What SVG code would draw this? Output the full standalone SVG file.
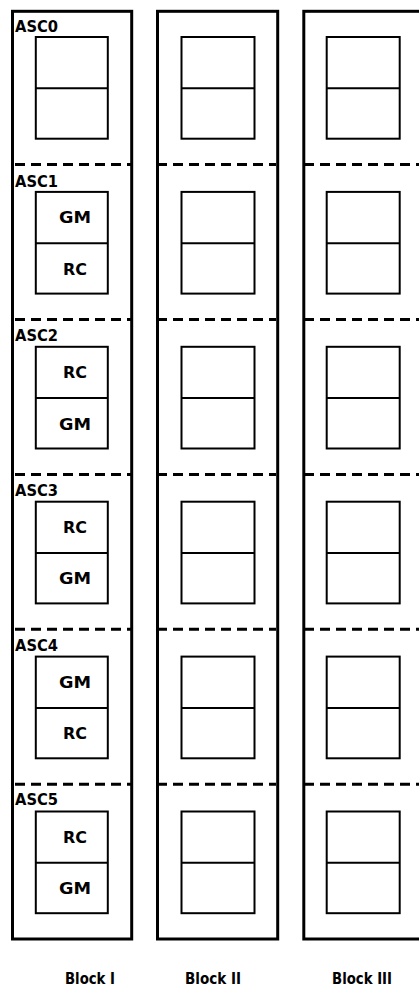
<svg xmlns="http://www.w3.org/2000/svg" width="419" height="989" viewBox="0 0 419 989">
<style>
.outer{fill:none;stroke:#000;stroke-width:3}
.box{fill:none;stroke:#000;stroke-width:2}
.dash{stroke:#000;stroke-width:3;stroke-dasharray:10 6;fill:none}
.lbl{font-family:"DejaVu Sans",sans-serif;font-weight:bold;font-size:16px;fill:#000}
.mid{text-anchor:middle}
</style>
<defs>
<g id="cell"><rect class="box" x="0" y="0" width="72" height="101.7"/><line class="box" x1="0" y1="51.3" x2="72" y2="51.3"/></g>
<g id="cell2"><rect class="box" x="0" y="0" width="73" height="101.7"/><line class="box" x1="0" y1="51.3" x2="73" y2="51.3"/></g>
</defs>
<g id="connectors">
<line class="dash" x1="15" y1="164.5" x2="131" y2="164.5"/>
<line class="dash" x1="15" y1="319.5" x2="131" y2="319.5"/>
<line class="dash" x1="15" y1="474.4" x2="131" y2="474.4"/>
<line class="dash" x1="15" y1="629.3" x2="131" y2="629.3"/>
<line class="dash" x1="15" y1="784.3" x2="131" y2="784.3"/>
<line class="dash" x1="157" y1="164.5" x2="276" y2="164.5"/>
<line class="dash" x1="157" y1="319.5" x2="276" y2="319.5"/>
<line class="dash" x1="157" y1="474.4" x2="276" y2="474.4"/>
<line class="dash" x1="157" y1="629.3" x2="276" y2="629.3"/>
<line class="dash" x1="157" y1="784.3" x2="276" y2="784.3"/>
<line class="dash" x1="304" y1="164.5" x2="419" y2="164.5"/>
<line class="dash" x1="304" y1="319.5" x2="419" y2="319.5"/>
<line class="dash" x1="304" y1="474.4" x2="419" y2="474.4"/>
<line class="dash" x1="304" y1="629.3" x2="419" y2="629.3"/>
<line class="dash" x1="304" y1="784.3" x2="419" y2="784.3"/>
</g>
<g id="block1">
<rect class="outer" x="12.5" y="11.3" width="119.2" height="927.7"/>
<text class="lbl" x="90" y="984" text-anchor="middle" textLength="50" lengthAdjust="spacingAndGlyphs">Block I</text>
</g>
<g id="block2">
<rect class="outer" x="157.5" y="11.3" width="120.2" height="927.7"/>
<text class="lbl" x="213" y="984" text-anchor="middle" textLength="56" lengthAdjust="spacingAndGlyphs">Block II</text>
</g>
<g id="block3">
<rect class="outer" x="303.8" y="11.3" width="120" height="927.7"/>
<text class="lbl" x="362" y="984" text-anchor="middle" textLength="60" lengthAdjust="spacingAndGlyphs">Block III</text>
</g>
<g id="asc0">
<text class="lbl" x="15" y="31.8" textLength="43" lengthAdjust="spacingAndGlyphs">ASC0</text>
<use href="#cell" x="35.8" y="37"/>
</g>
<g id="asc1">
<text class="lbl" x="15" y="186.5" textLength="43" lengthAdjust="spacingAndGlyphs">ASC1</text>
<use href="#cell" x="35.8" y="191.9"/>
<text class="lbl mid" x="75" y="223.4" textLength="32" lengthAdjust="spacingAndGlyphs">GM</text>
<text class="lbl mid" x="75" y="274.6" textLength="24" lengthAdjust="spacingAndGlyphs">RC</text>
</g>
<g id="asc2">
<text class="lbl" x="15" y="341.2" textLength="43" lengthAdjust="spacingAndGlyphs">ASC2</text>
<use href="#cell" x="35.8" y="346.8"/>
<text class="lbl mid" x="75" y="378.3" textLength="24" lengthAdjust="spacingAndGlyphs">RC</text>
<text class="lbl mid" x="75" y="429.5" textLength="32" lengthAdjust="spacingAndGlyphs">GM</text>
</g>
<g id="asc3">
<text class="lbl" x="15" y="495.9" textLength="43" lengthAdjust="spacingAndGlyphs">ASC3</text>
<use href="#cell" x="35.8" y="501.7"/>
<text class="lbl mid" x="75" y="533.2" textLength="24" lengthAdjust="spacingAndGlyphs">RC</text>
<text class="lbl mid" x="75" y="584.4" textLength="32" lengthAdjust="spacingAndGlyphs">GM</text>
</g>
<g id="asc4">
<text class="lbl" x="15" y="650.6" textLength="43" lengthAdjust="spacingAndGlyphs">ASC4</text>
<use href="#cell" x="35.8" y="656.6"/>
<text class="lbl mid" x="75" y="688.1" textLength="32" lengthAdjust="spacingAndGlyphs">GM</text>
<text class="lbl mid" x="75" y="739.3" textLength="24" lengthAdjust="spacingAndGlyphs">RC</text>
</g>
<g id="asc5">
<text class="lbl" x="15" y="805.3" textLength="43" lengthAdjust="spacingAndGlyphs">ASC5</text>
<use href="#cell" x="35.8" y="811.5"/>
<text class="lbl mid" x="75" y="843" textLength="24" lengthAdjust="spacingAndGlyphs">RC</text>
<text class="lbl mid" x="75" y="894.2" textLength="32" lengthAdjust="spacingAndGlyphs">GM</text>
</g>
<g id="block2-cells">
<use href="#cell2" x="181.5" y="37"/>
<use href="#cell2" x="181.5" y="191.9"/>
<use href="#cell2" x="181.5" y="346.8"/>
<use href="#cell2" x="181.5" y="501.7"/>
<use href="#cell2" x="181.5" y="656.6"/>
<use href="#cell2" x="181.5" y="811.5"/>
</g>
<g id="block3-cells">
<use href="#cell2" x="326.7" y="37"/>
<use href="#cell2" x="326.7" y="191.9"/>
<use href="#cell2" x="326.7" y="346.8"/>
<use href="#cell2" x="326.7" y="501.7"/>
<use href="#cell2" x="326.7" y="656.6"/>
<use href="#cell2" x="326.7" y="811.5"/>
</g>
</svg>
